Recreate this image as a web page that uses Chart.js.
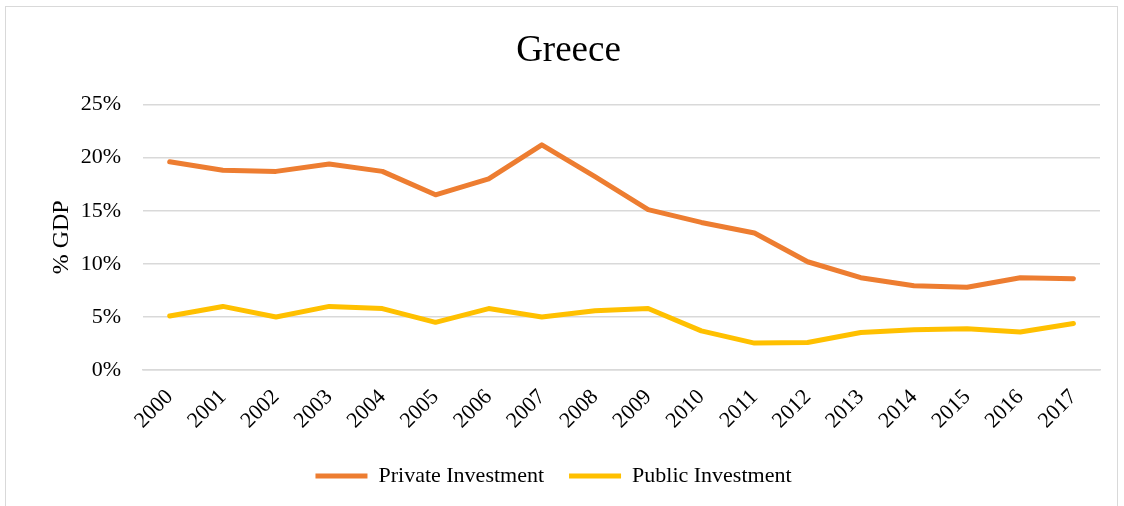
<!DOCTYPE html>
<html>
<head>
<meta charset="utf-8">
<title>Greece</title>
<script src="https://cdn.jsdelivr.net/npm/chart.js@4/dist/chart.umd.min.js"></script>
<style>
  html, body { margin: 0; padding: 0; background: #fff; overflow: hidden; }
  .wrap { position: relative; width: 1124px; height: 506px; }
  .frame { position: absolute; left: 5px; top: 6px; width: 1111px; height: 520px; border: 1.5px solid #d9d9d9; pointer-events: none; }
</style>
</head>
<body>
<div class="wrap">
  <canvas id="greeceChart" width="1124" height="506"></canvas>
  <div class="frame"></div>
</div>
<script>
// Investment as share of GDP, Greece
const years = ['2000', '2001', '2002', '2003', '2004', '2005', '2006', '2007', '2008', '2009',
  '2010', '2011', '2012', '2013', '2014', '2015', '2016', '2017'];
const privateInvestment = [19.6, 18.8, 18.7, 19.4, 18.7, 16.5, 18.0, 21.2, 18.2, 15.1,
  13.9, 12.9, 10.2, 8.7, 7.95, 7.8, 8.7, 8.6];
const publicInvestment = [5.1, 6.0, 5.0, 6.0, 5.8, 4.5, 5.8, 5.0, 5.6, 5.8,
  3.7, 2.55, 2.6, 3.55, 3.8, 3.9, 3.6, 4.4];
const yTicks = [0, 5, 10, 15, 20, 25];

const serif = "'Liberation Serif', 'Times New Roman', serif";

function lineSeries(label, data, color) {
  return {
    label: label,
    data: data,
    borderColor: color,
    backgroundColor: color,
    borderWidth: 5,
    borderCapStyle: 'round',
    borderJoinStyle: 'round',
    pointRadius: 0,
    pointHoverRadius: 0,
    tension: 0,
    fill: false
  };
}

// title and legend sit centred on the whole frame rather than the plot,
// so nudge both boxes left a little once layout is done
const shiftBoxes = {
  id: 'shiftBoxes',
  afterLayout(chart) {
    const move = (box, dx) => {
      if (!box) return;
      box.left += dx;
      box.right += dx;
    };
    move(chart.titleBlock, -5);
    move(chart.legend, -20);
  }
};

const ctx = document.getElementById('greeceChart').getContext('2d');
new Chart(ctx, {
  type: 'line',
  data: {
    labels: years,
    datasets: [
      lineSeries('Private Investment', privateInvestment, '#ED7D31'),
      lineSeries('Public Investment', publicInvestment, '#FFC000')
    ]
  },
  plugins: [shiftBoxes],
  options: {
    responsive: false,
    animation: false,
    layout: { padding: { left: 47, right: 24, top: 0, bottom: 9 } },
    plugins: {
      title: {
        display: true,
        text: 'Greece',
        color: '#000',
        font: { family: serif, size: 37, weight: 'normal' },
        padding: { top: 29, bottom: 31 }
      },
      legend: {
        position: 'bottom',
        labels: {
          usePointStyle: true,
          pointStyle: 'line',
          pointStyleWidth: 52,
          boxHeight: 6,
          color: '#000',
          padding: 25,
          font: { family: serif, size: 22 }
        }
      },
      tooltip: { enabled: false }
    },
    scales: {
      x: {
        offset: true,
        grid: { display: false },
        border: { display: true, color: '#d9d9d9', width: 1.5 },
        ticks: {
          color: '#000',
          font: { family: serif, size: 22 },
          minRotation: 45,
          maxRotation: 45,
          padding: 6
        }
      },
      y: {
        min: 0,
        max: 25,
        afterBuildTicks: axis => { axis.ticks = yTicks.map(v => ({ value: v })); },
        grid: { color: '#d9d9d9', lineWidth: 1.5, drawTicks: false },
        border: { display: false },
        title: {
          display: true,
          text: '% GDP',
          color: '#000',
          font: { family: serif, size: 24 },
          padding: { top: 0, bottom: -17 }
        },
        ticks: {
          color: '#000',
          font: { family: serif, size: 22 },
          padding: 22,
          callback: v => v + '%'
        }
      }
    }
  }
});
</script>
</body>
</html>
